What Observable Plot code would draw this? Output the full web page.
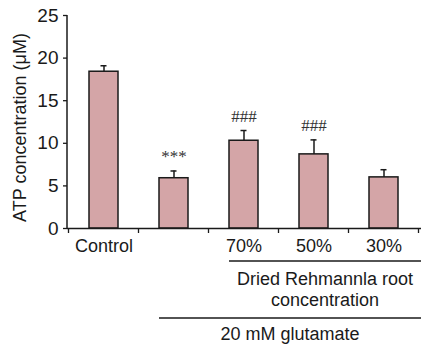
<!DOCTYPE html>
<html><head><meta charset="utf-8">
<script src="https://cdn.jsdelivr.net/npm/d3@7"></script>
<script src="https://cdn.jsdelivr.net/npm/@observablehq/plot@0.6"></script>
<style>body{margin:0;background:#fff} #chart svg{font-family:"Liberation Sans",Arial,sans-serif;display:block}</style>
</head><body><div id="chart"></div>
<script>
const categories = ["Control", "Glutamate", "70%", "50%", "30%"];
const tickLabels = ["Control", "", "70%", "50%", "30%"];
const means = [18.4, 5.9, 10.3, 8.7, 6.0];
const errors = [0.7, 0.85, 1.2, 1.7, 0.9];
const significance = ["", "***", "###", "###", ""];
const yTicks = [0, 5, 10, 15, 20, 25];
const yLabel = "ATP concentration (μM)";
const groupLabels = [["Dried Rehmannla root", "concentration"], ["20 mM glutamate"]];
const groupFrom = ["70%", "Glutamate"];
const groupTo = ["30%", "30%"];

const data = categories.map((c, i) => ({cat: c, mean: means[i], err: errors[i], top: means[i] + errors[i], sig: significance[i]}));

const W = 421, H = 345, ML = 67, MR = 0, MT = 15, MB = 117;
const ink = "#1a1a1a";
const FONT = '"Liberation Sans", Arial, sans-serif';

const plot = Plot.plot({
  width: W, height: H, marginLeft: ML, marginRight: MR, marginTop: MT, marginBottom: MB,
  style: {fontFamily: FONT, fontSize: "18px", color: ink, background: "#fff", overflow: "visible"},
  x: {domain: categories, paddingInner: 0.58, paddingOuter: 0.29, align: 0.5},
  y: {domain: [0, 25]},
  marks: [
    Plot.barY(data, {x: "cat", y: "mean", fill: "#d4a5a7", stroke: ink, strokeWidth: 1.5}),
    Plot.ruleX(data, {x: "cat", y1: "mean", y2: "top", stroke: ink, strokeWidth: 1.5}),
    Plot.tickY(data, {x: "cat", y: "top", insetLeft: 11.5, insetRight: 11.5, stroke: ink, strokeWidth: 1.5}),
    Plot.text(data, {x: "cat", y: "top", text: "sig", dy: -9, lineAnchor: "bottom", fontFamily: '"Liberation Serif", serif', fontSize: 17, fill: "#333"}),
    Plot.axisY({ticks: yTicks, tickSize: 4, tickPadding: 5, label: null, fontSize: 19, fontFamily: FONT, stroke: ink, strokeWidth: 1.3}),
    Plot.ruleY([0], {stroke: ink, strokeWidth: 1.5}),
    Plot.axisX({tickSize: 0, tickPadding: 11, label: null, fontSize: 18, fontFamily: FONT, tickFormat: d => tickLabels[categories.indexOf(d)]})
  ]
});

const xs = plot.scale("x");
const ys = plot.scale("y");
const bw = xs.bandwidth;
const step = xs.step;
const svg = d3.select(plot);
const g = svg.append("g").attr("stroke", ink).attr("fill", "none");

// y axis line
g.append("line").attr("x1", ML).attr("x2", ML).attr("y1", ys.apply(0)).attr("y2", ys.apply(25)).attr("stroke-width", 1.5);

// x boundary ticks
const bounds = categories.map(c => xs.apply(c) - (step - bw) / 2);
bounds.push(xs.apply(categories[categories.length - 1]) + bw + (step - bw) / 2);
g.selectAll(".bt").data(bounds).join("line")
  .attr("x1", d => d).attr("x2", d => d)
  .attr("y1", ys.apply(0)).attr("y2", ys.apply(0) + 5).attr("stroke-width", 1.3);

// y label
svg.append("text").attr("transform", `translate(26,${(ys.apply(0) + ys.apply(25)) / 2 + 6}) rotate(-90)`)
  .attr("text-anchor", "middle").attr("fill", ink).attr("font-size", 18).attr("font-family", FONT).text(yLabel);

// grouping brackets
const y0 = ys.apply(0);
const lineY = [y0 + 33, y0 + 90];
const textY = [y0 + 57, y0 + 112];
groupLabels.forEach((lines, i) => {
  const x1 = xs.apply(groupFrom[i]);
  const x2 = W;
  g.append("line").attr("x1", x1).attr("x2", x2).attr("y1", lineY[i]).attr("y2", lineY[i]).attr("stroke-width", 1.5);
  const t = svg.append("text").attr("text-anchor", "middle").attr("fill", ink).attr("font-size", 18).attr("font-family", FONT);
  lines.forEach((s, j) => {
    t.append("tspan").attr("x", (x1 + x2) / 2).attr("y", textY[i] + j * 21).text(s);
  });
});

document.getElementById("chart").appendChild(plot);
</script>
</body></html>
